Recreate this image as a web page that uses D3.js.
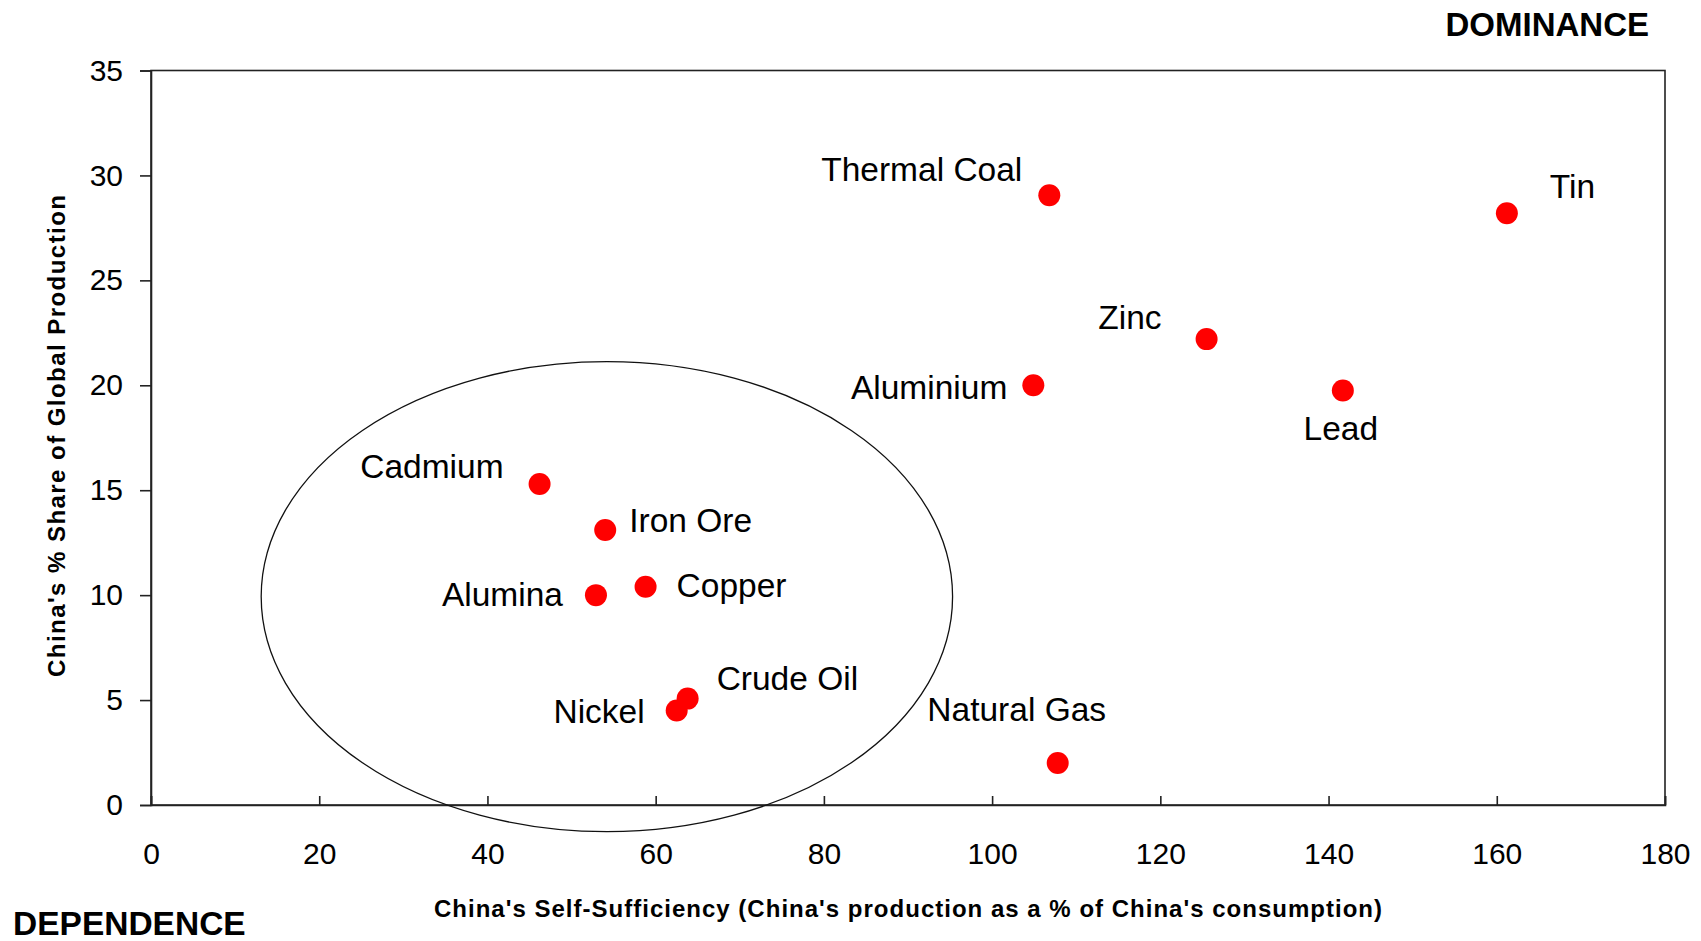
<!DOCTYPE html>
<html>
<head>
<meta charset="utf-8">
<script src="https://cdn.jsdelivr.net/npm/d3@7/dist/d3.min.js"></script>
<style>
  html, body { margin: 0; padding: 0; background: #fff; }
  svg { display: block; }
  text { font-family: "Liberation Sans", Arial, sans-serif; fill: #000; }
</style>
</head>
<body>
<svg id="chart" width="1701" height="941"></svg>
<script>
// ---- data ----
const commodities = ["Thermal Coal", "Tin", "Zinc", "Aluminium", "Lead", "Cadmium",
                     "Iron Ore", "Alumina", "Copper", "Crude Oil", "Nickel", "Natural Gas"];
const selfSufficiency = [106.8, 161.2, 125.5, 104.9, 141.7, 46.2, 54.0, 52.9, 58.8, 63.8, 62.5, 107.8];
const globalShare     = [29.06, 28.2, 22.2, 20.0, 19.75, 15.3, 13.1, 10.0, 10.4, 5.07, 4.5, 2.0];
const xTicks = [0, 20, 40, 60, 80, 100, 120, 140, 160, 180];
const yTicks = [0, 5, 10, 15, 20, 25, 30, 35];
const xTitle = "China's Self-Sufficiency (China's production as a % of China's consumption)";
const yTitle = "China's % Share of Global Production";
const cornerTop = "DOMINANCE";
const cornerBottom = "DEPENDENCE";
// dependence cluster ellipse (data units)
const ellipseCenter = [54.2, 9.93];
const ellipseRadii = [41.1, 11.2];

// ---- label placement (pixels, relative to point) ----
const labelPlacement = [
  {dx: -27, dy: -14, anchor: "end"},    // Thermal Coal
  {dx: 43,  dy: -15, anchor: "start"},  // Tin
  {dx: -45, dy: -10, anchor: "end"},    // Zinc
  {dx: -26, dy: 14,  anchor: "end"},    // Aluminium
  {dx: -2,  dy: 49,  anchor: "middle"}, // Lead
  {dx: -36, dy: -6,  anchor: "end"},    // Cadmium
  {dx: 24,  dy: 2,   anchor: "start"},  // Iron Ore
  {dx: -33, dy: 11,  anchor: "end"},    // Alumina
  {dx: 31,  dy: 10,  anchor: "start"},  // Copper
  {dx: 29,  dy: -9,  anchor: "start"},  // Crude Oil
  {dx: -32, dy: 12,  anchor: "end"},    // Nickel
  {dx: -41, dy: -42, anchor: "middle"}  // Natural Gas
];

const svg = d3.select("#chart");
const mLeft = 151, mRight = 1665, mTop = 70.5, mBottom = 805;

const x = d3.scaleLinear().domain([0, 180]).range([mLeft, mRight]);
const y = d3.scaleLinear().domain([0, 35]).range([mBottom, mTop]);

// frame
svg.append("rect")
  .attr("x", mLeft).attr("y", mTop)
  .attr("width", mRight - mLeft).attr("height", mBottom - mTop)
  .attr("fill", "none").attr("stroke", "#222").attr("stroke-width", 1.6);

// y axis
const yAxis = d3.axisLeft(y).tickValues(yTicks).tickSize(11).tickPadding(17).tickFormat(d3.format("d"));
const gy = svg.append("g").attr("transform", `translate(${mLeft},0)`).call(yAxis);
gy.select(".domain").attr("stroke", "#222").attr("stroke-width", 1.6);
gy.selectAll(".tick line").attr("stroke", "#222").attr("stroke-width", 1.6);
gy.selectAll(".tick text").style("font-size", "30px").style("font-family", "Liberation Sans, Arial, sans-serif").attr("fill", "#000");

// x axis (ticks pointing inward)
const xAxis = d3.axisBottom(x).tickValues(xTicks).tickSize(-9).tickPadding(38).tickFormat(d3.format("d"));
const gx = svg.append("g").attr("transform", `translate(0,${mBottom})`).call(xAxis);
gx.select(".domain").attr("stroke", "#222").attr("stroke-width", 1.6);
gx.selectAll(".tick line").attr("stroke", "#222").attr("stroke-width", 1.6);
gx.selectAll(".tick text").style("font-size", "30px").style("font-family", "Liberation Sans, Arial, sans-serif").attr("fill", "#000");

// ellipse
svg.append("ellipse")
  .attr("cx", x(ellipseCenter[0])).attr("cy", y(ellipseCenter[1]))
  .attr("rx", x(ellipseRadii[0]) - x(0)).attr("ry", y(0) - y(ellipseRadii[1]))
  .attr("fill", "none").attr("stroke", "#111").attr("stroke-width", 1.3);

// points
const pts = commodities.map((c, i) => ({name: c, xv: selfSufficiency[i], yv: globalShare[i], lp: labelPlacement[i]}));
svg.append("g").selectAll("circle").data(pts).join("circle")
  .attr("cx", d => x(d.xv)).attr("cy", d => y(d.yv))
  .attr("r", 11).attr("fill", "#ff0000");

svg.append("g").selectAll("text").data(pts).join("text")
  .attr("x", d => x(d.xv) + d.lp.dx).attr("y", d => y(d.yv) + d.lp.dy)
  .attr("text-anchor", d => d.lp.anchor)
  .style("font-size", "33.5px")
  .text(d => d.name);

// axis titles
svg.append("text")
  .attr("x", 908).attr("y", 917).attr("text-anchor", "middle")
  .style("font-size", "24px").style("font-weight", "bold")
  .attr("textLength", 948).attr("lengthAdjust", "spacing")
  .text(xTitle);

svg.append("text")
  .attr("transform", "translate(65,436) rotate(-90)")
  .attr("text-anchor", "middle")
  .style("font-size", "24px").style("font-weight", "bold")
  .attr("textLength", 482).attr("lengthAdjust", "spacing")
  .text(yTitle);

// corner annotations
svg.append("text")
  .attr("x", 1649).attr("y", 36).attr("text-anchor", "end")
  .style("font-size", "33px").style("font-weight", "bold")
  .text(cornerTop);

svg.append("text")
  .attr("x", 13).attr("y", 935).attr("text-anchor", "start")
  .style("font-size", "33.5px").style("font-weight", "bold")
  .text(cornerBottom);
</script>
</body>
</html>
